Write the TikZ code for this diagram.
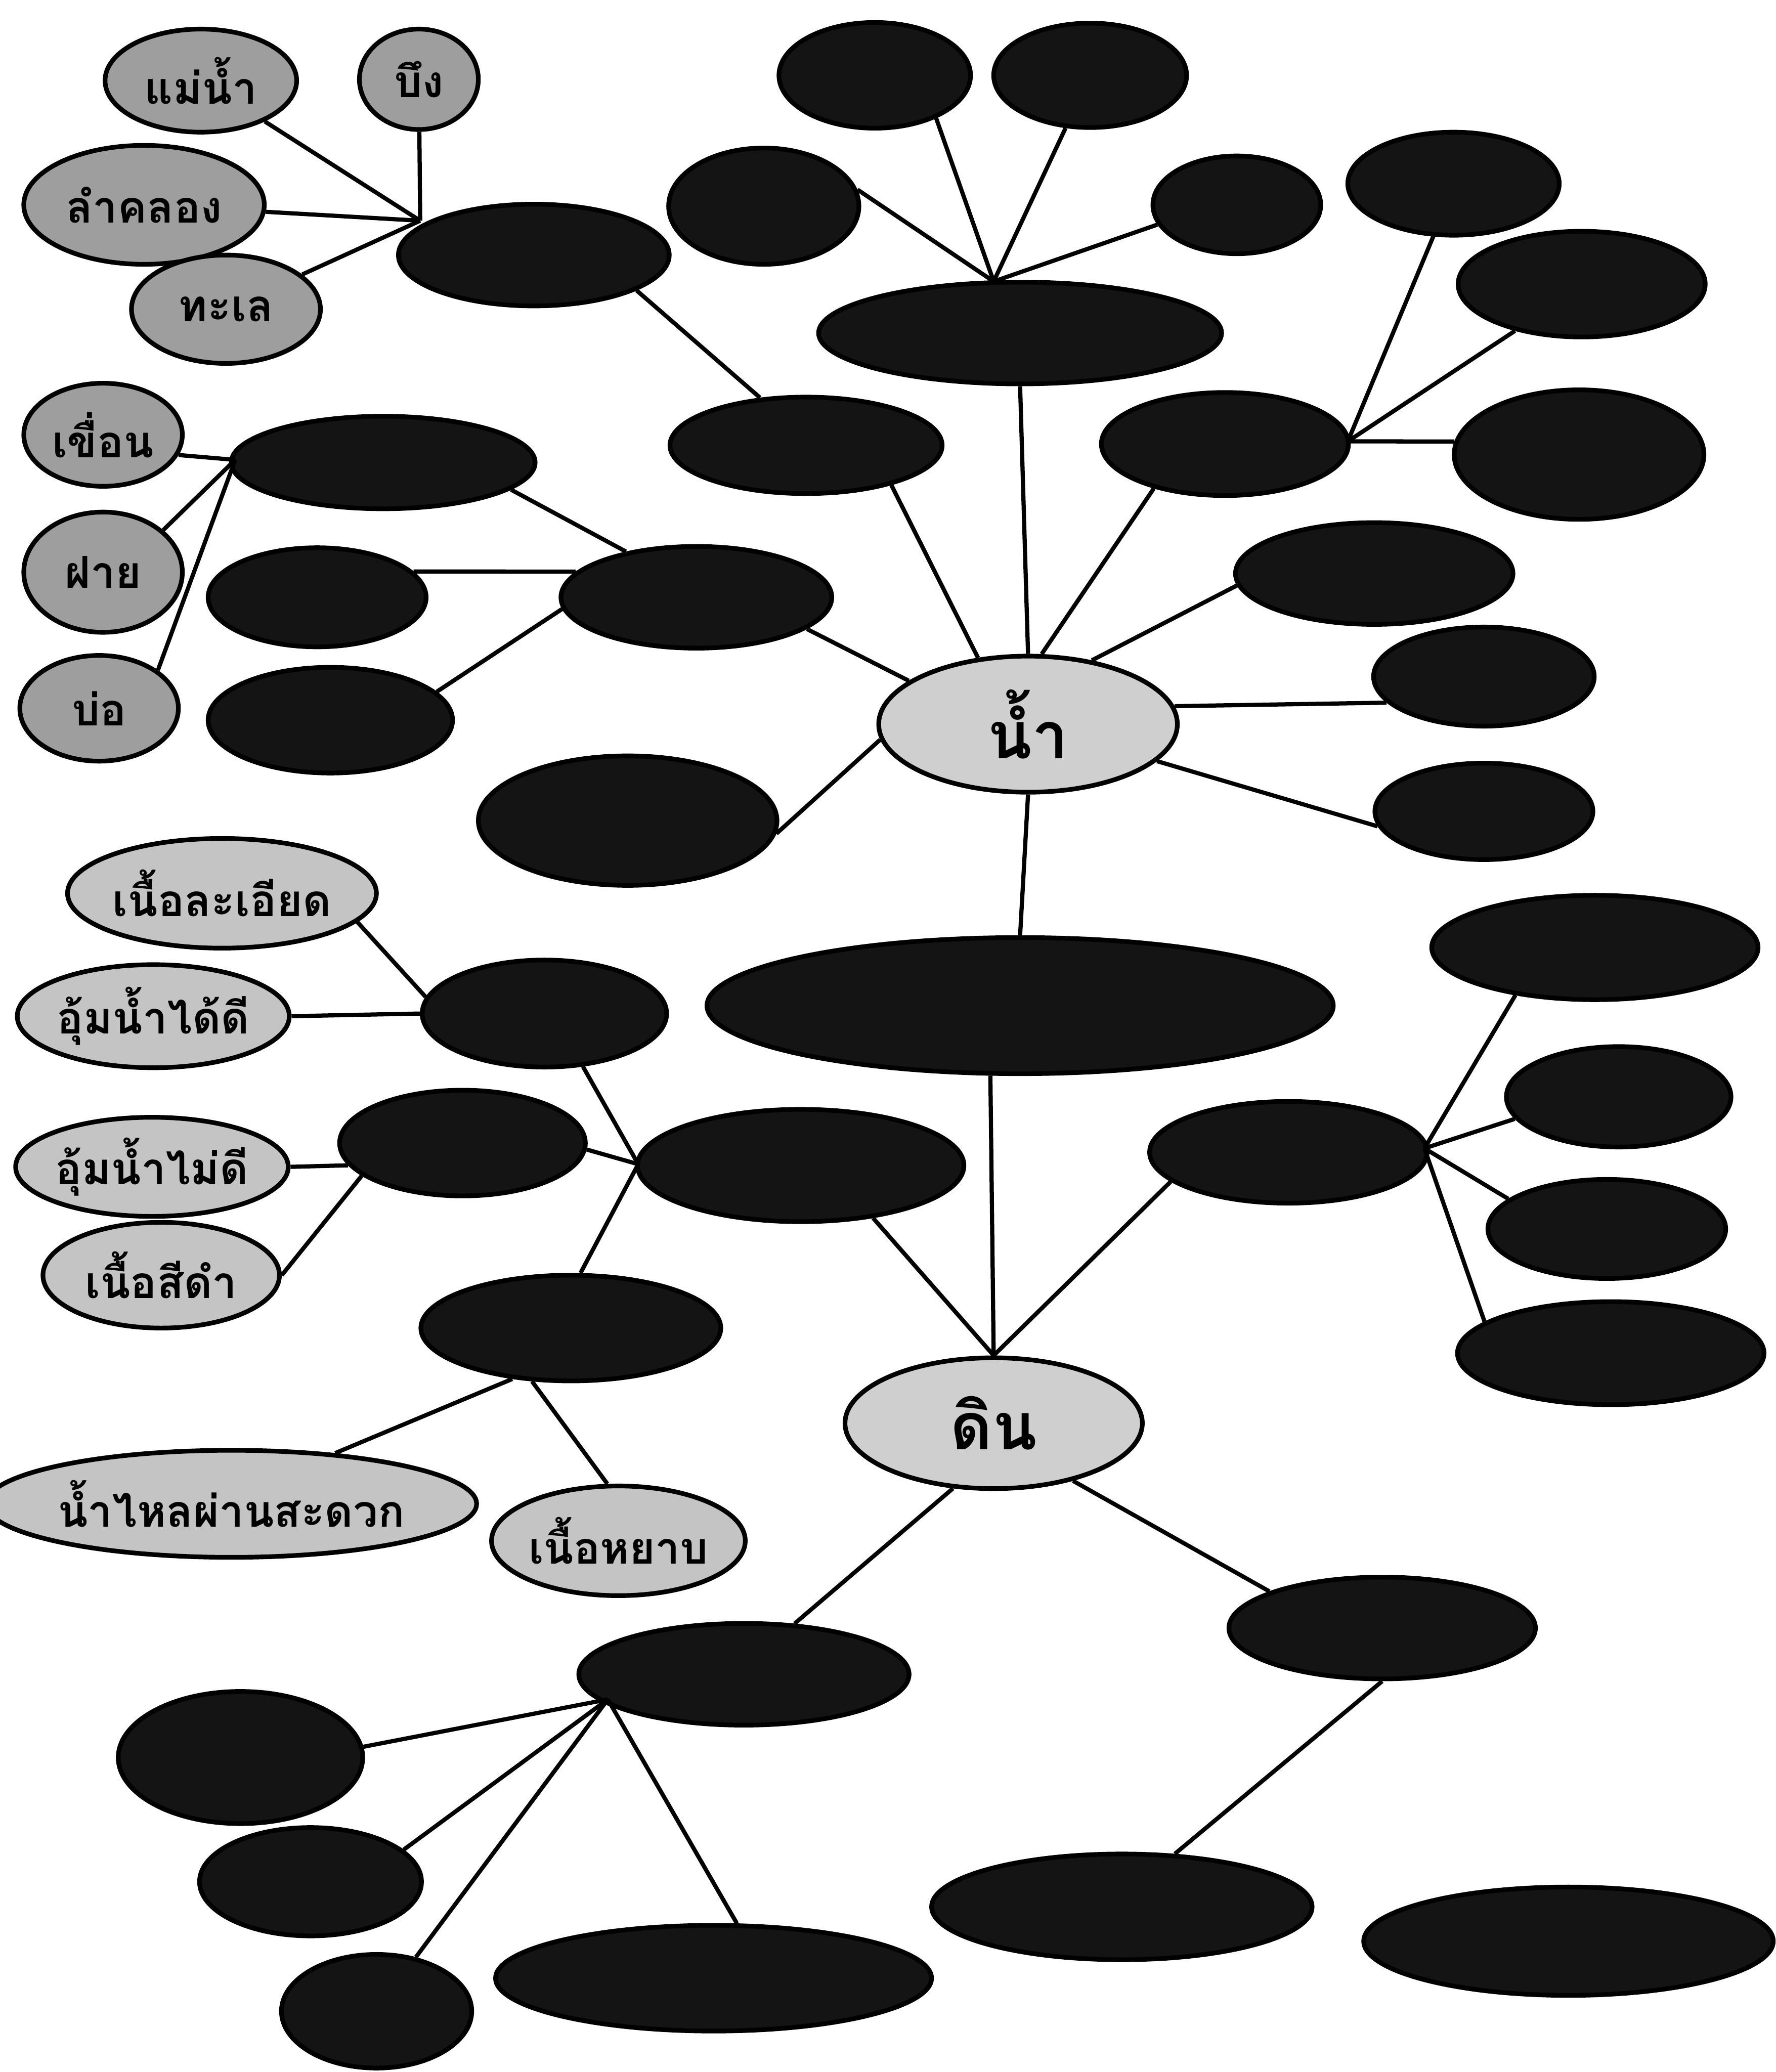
\documentclass[tikz,border=0pt]{standalone}
\usepackage{fontspec}
\newfontfamily\thaifont[Script=Thai]{Loma}
\usetikzlibrary{shapes.geometric}
\definecolor{darkfill}{gray}{0.08}
\definecolor{greyA}{gray}{0.62}
\definecolor{greyB}{gray}{0.77}
\definecolor{greyC}{gray}{0.81}
\tikzset{
  ell/.style={ellipse, draw=black, line width=1pt, inner sep=0pt},
  sz/.style 2 args={minimum width=#1*0.1mm, minimum height=#2*0.1mm},
  dk/.style={ell, fill=darkfill},
  lA/.style={ell, fill=greyA, font=\thaifont\bfseries\fontsize{9.5}{10}\selectfont},
  lB/.style={ell, fill=greyB, font=\thaifont\bfseries\fontsize{9.5}{10}\selectfont},
  cen/.style={ell, fill=greyC, font=\thaifont\bfseries\fontsize{14}{16}\selectfont},
  conn/.style={draw=black, line width=0.9pt}
}
\begin{document}
\begin{tikzpicture}[x=0.1mm,y=-0.1mm]
\useasboundingbox[fill=white] (0,0) rectangle (1344,1568);

% ---- top-left: natural water sources
\node[lA, sz={145}{78}] (mae) at (152,61) {แม่น้ำ};
\node[lA, sz={90}{76}] (bueng) at (317,60) {บึง};
\node[lA, sz={182}{90}] (lamklong) at (109,155) {ลำคลอง};
\node[lA, sz={143}{82}] (thale) at (171,234) {ทะเล};
\node[dk, sz={205}{77}] (hlaeng) at (404,193) {};
\coordinate (hA) at (318,167);

% ---- top centre
\node[dk, sz={145}{80}] (t1) at (662,57) {};
\node[dk, sz={146}{79}] (t2) at (825,57) {};
\node[dk, sz={144}{88}] (t3) at (578,156) {};
\node[dk, sz={127}{74}] (t4) at (936,155) {};
\node[dk, sz={305}{77}] (bigtop) at (772,252) {};
\coordinate (hB) at (752,213);
\node[dk, sz={206}{73}] (prayot) at (610,337) {};

% ---- top right
\node[dk, sz={187}{78}] (rm) at (927,336) {};
\node[dk, sz={160}{78}] (r1) at (1100,139) {};
\node[dk, sz={187}{80}] (r2) at (1197,215) {};
\node[dk, sz={189}{98}] (r3) at (1195,344) {};
\coordinate (hC) at (1020,334);
\node[dk, sz={210}{77}] (r4) at (1040,434) {};
\node[dk, sz={167}{75}] (r5) at (1123,512) {};
\node[dk, sz={165}{73}] (r6) at (1123,614) {};

% ---- centre water
\node[cen, sz={226}{103}] (naam) at (778,548) {น้ำ};

% ---- left: man-made water sources
\node[lA, sz={120}{78}] (khuean) at (78,329) {เขื่อน};
\node[lA, sz={120}{91}] (faai) at (78,433) {ฝาย};
\node[lA, sz={120}{80}] (bo) at (75,536) {บ่อ};
\node[dk, sz={230}{70}] (lc) at (290,350) {};
\coordinate (hD) at (178,348);
\node[dk, sz={205}{77}] (kwam) at (527,452) {};
\node[dk, sz={165}{75}] (m1) at (240,452) {};
\node[dk, sz={185}{80}] (m2) at (250,545) {};
\node[dk, sz={226}{98}] (l1) at (475,621) {};

% ---- middle
\node[dk, sz={474}{103}] (bigbot) at (772,761) {};

% ---- soil, left
\node[lB, sz={227}{83}] (lek) at (168,676) {เนื้อละเอียด};
\node[lB, sz={204}{78}] (umdi) at (116,769) {อุ้มน้ำได้ดี};
\node[lB, sz={206}{75}] (umdimai) at (115,883) {อุ้มน้ำไม่ดี};
\node[lB, sz={179}{80}] (sidam) at (122,965) {เนื้อสีดำ};
\node[lB, sz={326}{81}] (namlai) at (175,1138) {น้ำไหลผ่านสะดวก};
\node[lB, sz={177}{83}] (yap) at (468,1166) {เนื้อหยาบ};
\node[dk, sz={185}{81}] (n1) at (412,767) {};
\node[dk, sz={186}{80}] (n2) at (350,865) {};
\node[dk, sz={247}{85}] (n3) at (606,882) {};
\node[dk, sz={227}{80}] (s1) at (432,1005) {};
\coordinate (hE) at (483,881);

% ---- soil centre
\node[cen, sz={225}{99}] (din) at (752,1077) {ดิน};

% ---- soil right
\node[dk, sz={210}{77}] (rc) at (975,872) {};
\node[dk, sz={247}{79}] (rr1) at (1207,717) {};
\node[dk, sz={170}{76}] (rr2) at (1225,830) {};
\node[dk, sz={180}{75}] (rr3) at (1216,930) {};
\node[dk, sz={232}{78}] (rr4) at (1219,1024) {};
\coordinate (hG) at (1078,869);
\node[dk, sz={232}{77}] (rb) at (1046,1232) {};
\node[dk, sz={288}{80}] (rb2) at (849,1443) {};
\node[dk, sz={310}{82}] (rb3) at (1187,1469) {};

% ---- soil bottom left
\node[dk, sz={250}{77}] (lb) at (563,1267) {};
\node[dk, sz={185}{100}] (lb1) at (182,1330) {};
\node[dk, sz={168}{82}] (lb2) at (235,1424) {};
\node[dk, sz={144}{86}] (lb3) at (285,1522) {};
\node[dk, sz={330}{80}] (lb4) at (540,1497) {};
\coordinate (hH) at (460,1286);

% ================= connectors
\draw[conn] (mae) -- (hA);
\draw[conn] (bueng) -- (hA);
\draw[conn] (lamklong) -- (hA);
\draw[conn] (thale) -- (hA);
\draw[conn] (hlaeng.-19) -- (prayot.134);
\draw[conn] (prayot.-25) -- (naam.127);

\draw[conn] (t1.-35) -- (hB);
\draw[conn] (t2.-115) -- (hB);
\draw[conn] (t3.10) -- (hB);
\draw[conn] (t4.-166) -- (hB);
\draw[conn] (bigtop.south) -- (naam.north);

\draw[conn] (naam.79) -- (rm.-148);
\draw[conn] (r1.-111) -- (hC);
\draw[conn] (r2.-145) -- (hC);
\draw[conn] (r3.174) -- (hC);
\draw[conn] (naam.45) -- (r4.-175);
\draw[conn] (naam.7) -- (r5.-165);
\draw[conn] (naam.-16) -- (r6.-172);
\draw[conn] (naam.186) -- (l1.-5);
\draw[conn] (naam.160) -- (kwam.-16);

\draw[conn] (khuean.-15) -- (hD);
\draw[conn] (faai.35) -- (hD);
\draw[conn] (bo.33) -- (hD);
\draw[conn] (lc.-12) -- (kwam.147);
\draw[conn] (m1.15) -- (kwam.168);
\draw[conn] (m2.15) -- (kwam.185);

\draw[conn] (naam.south) -- (bigbot.north);
\draw[conn] (bigbot.-113) -- (din.north);

\draw[conn] (lek.-12) -- (n1.172);
\draw[conn] (umdi.east) -- (n1.west);
\draw[conn] (n1.-54) -- (hE);
\draw[conn] (n2.-3) -- (hE);
\draw[conn] (s1.80) -- (hE);
\draw[conn] (umdimai.east) -- (n2.191);
\draw[conn] (sidam.east) -- (n2.198);
\draw[conn] (n3.-36) -- (din.north);
\draw[conn] (s1.-139) -- (namlai.26);
\draw[conn] (s1.-126) -- (yap.101);

\draw[conn] (din.north) -- (rc.-166);
\draw[conn] (rr1.-149) -- (hG);
\draw[conn] (rr2.-168) -- (hG);
\draw[conn] (rr3.163) -- (hG);
\draw[conn] (rr4.166) -- (hG);
\draw[conn] (din.-36) -- (rb.162);
\draw[conn] (rb.south) -- (rb2.45);

\draw[conn] (din.-122) -- (lb.45);
\draw[conn] (lb1.5) -- (hH);
\draw[conn] (lb2.19) -- (hH);
\draw[conn] (lb3.54) -- (hH);
\draw[conn] (lb4.67) -- (hH);
\end{tikzpicture}
\end{document}
